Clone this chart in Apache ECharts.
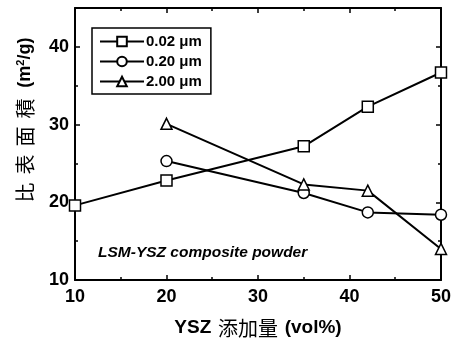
<!DOCTYPE html>
<html>
<head>
<meta charset="utf-8">
<script src="https://cdn.jsdelivr.net/npm/echarts@6/dist/echarts.min.js"></script>
<style>
  html, body { margin: 0; padding: 0; background: #fff; }
  #main { width: 454px; height: 345px; }
</style>
</head>
<body>
<div id="main"></div>
<script>
// data
var xs002 = [10, 20, 35, 42, 50];
var ys002 = [19.6, 22.8, 27.2, 32.3, 36.7];
var xs020 = [20, 35, 42, 50];
var ys020 = [25.3, 21.2, 18.7, 18.4];
var xs200 = [20, 35, 42, 50];
var ys200 = [30.1, 22.3, 21.5, 14.0];
var seriesNames = ['0.02 μm', '0.20 μm', '2.00 μm'];

function pairs(xs, ys) {
  return xs.map(function (x, i) { return [x, ys[i]]; });
}

var font = '"Liberation Sans", Arial, sans-serif';
var cjk = '"Noto Sans CJK TC", "Noto Sans CJK SC", sans-serif';

var chart = echarts.init(document.getElementById('main'));

var axisBase = {
  type: 'value',
  axisLine: { show: true, lineStyle: { color: '#000', width: 2 } },
  axisTick: { show: true, inside: true, length: 5, lineStyle: { color: '#000', width: 1.5 } },
  minorTick: { show: true, splitNumber: 2, length: 3, lineStyle: { color: '#000', width: 1.5 } },
  splitLine: { show: false }
};

function lineSeries(name, data, symbol) {
  return {
    name: name,
    type: 'line',
    data: data,
    symbol: symbol,
    symbolSize: 11,
    itemStyle: { color: '#fff', borderColor: '#000', borderWidth: 1.5 },
    lineStyle: { color: '#000', width: 2 },
    emphasis: { disabled: true },
    z: 3
  };
}

var option = {
  backgroundColor: '#fff',
  animation: false,
  grid: { left: 75, right: 12, top: 8, bottom: 65 },
  legend: {
    orient: 'vertical',
    left: 92,
    top: 28,
    padding: [6, 9, 5, 7],
    itemGap: 5,
    itemWidth: 44,
    itemHeight: 12,
    borderColor: '#000',
    borderWidth: 1.5,
    textStyle: { fontFamily: font, fontWeight: 'bold', fontSize: 15, color: '#000', padding: [0, 0, 0, -3] },
    data: seriesNames
  },
  xAxis: [
    Object.assign({}, axisBase, {
      min: 10, max: 50, interval: 10,
      position: 'bottom',
      axisLabel: { fontFamily: font, fontWeight: 'bold', fontSize: 18, color: '#000', margin: 8 },
      name: '{a|YSZ}  {c|添加量}  {a|(vol%)}',
      nameLocation: 'middle',
      nameGap: 38,
      nameTextStyle: {
        rich: {
          a: { fontFamily: font, fontWeight: 'bold', fontSize: 19, color: '#000' },
          c: { fontFamily: cjk, fontWeight: 'normal', fontSize: 20, color: '#000' }
        }
      }
    }),
    Object.assign({}, axisBase, {
      min: 10, max: 50, interval: 10,
      position: 'top',
      axisLabel: { show: false }
    })
  ],
  yAxis: [
    Object.assign({}, axisBase, {
      min: 10, max: 45, interval: 10,
      position: 'left',
      axisLabel: { fontFamily: font, fontWeight: 'bold', fontSize: 18, color: '#000', margin: 6, showMaxLabel: false },
      name: '{c|比}{c|表}{c|面}{c|積}  {a|(m}{s|2}{a|/g)}',
      nameLocation: 'middle',
      nameRotate: 90,
      nameGap: 40,
      nameTextStyle: {
        padding: [0, 0, 0, 44],
        rich: {
          a: { fontFamily: font, fontWeight: 'bold', fontSize: 18, color: '#000' },
          c: { fontFamily: cjk, fontWeight: 'normal', fontSize: 20, color: '#000', padding: [0, 4, 0, 4] },
          s: { fontFamily: font, fontWeight: 'bold', fontSize: 11, color: '#000', verticalAlign: 'top', padding: [0, 0, 8, 0] }
        }
      }
    }),
    Object.assign({}, axisBase, {
      min: 10, max: 45, interval: 10,
      position: 'right',
      axisLabel: { show: false }
    })
  ],
  graphic: [{
    type: 'text',
    left: 98,
    top: 245,
    style: {
      text: 'LSM-YSZ composite powder',
      font: 'italic bold 15.5px "Liberation Sans", Arial, sans-serif',
      fill: '#000'
    }
  }],
  series: [
    lineSeries(seriesNames[0], pairs(xs002, ys002), 'rect'),
    lineSeries(seriesNames[1], pairs(xs020, ys020), 'circle'),
    lineSeries(seriesNames[2], pairs(xs200, ys200), 'triangle')
  ]
};

chart.setOption(option);
</script>
</body>
</html>
